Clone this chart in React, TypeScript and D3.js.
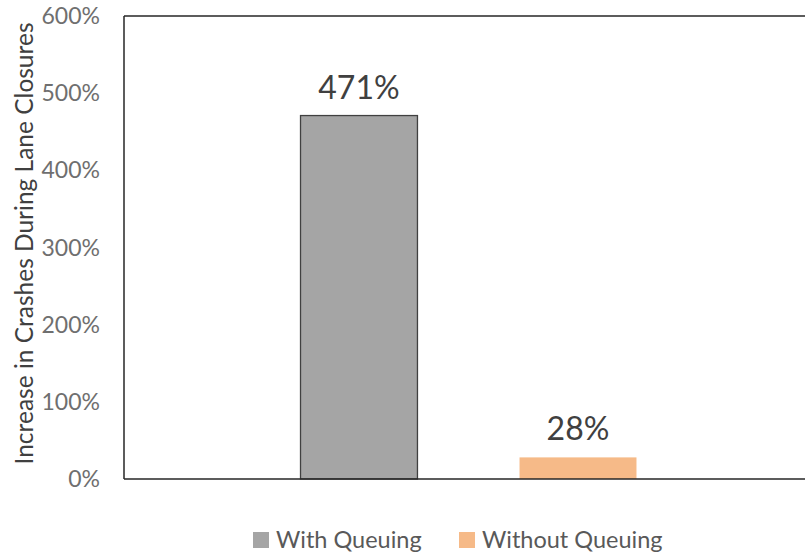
import React from "react";
import * as d3 from "d3";

const series = ["With Queuing", "Without Queuing"];
const values = [4.71, 0.28];
const dataLabels = ["471%", "28%"];
const colors = ["#A5A5A5", "#F6BA88"];
const strokes = ["#404040", "none"];
const yTicks = [0, 1, 2, 3, 4, 5, 6];
const yTitle = "Increase in Crashes During Lane Closures";

const W = 805;
const H = 554;
const left = 124;
const top = 16;
const bottom = 479;
const right = 813;

export default function App() {
  const y = d3.scaleLinear().domain([0, 6]).range([bottom, top]);
  const x = d3
    .scaleBand<string>()
    .domain(series)
    .range([left, right])
    .paddingInner(0.466)
    .paddingOuter(0.806);
  const fmt = (v: number) => `${Math.round(v * 100)}%`;
  const font = "Lato, 'Open Sans', sans-serif";
  const legendX = [253, 459];
  return (
    <svg
      width={W}
      height={H}
      style={{ position: "absolute", left: 0, top: 0, background: "#fff" }}
      fontFamily={font}
    >
      <rect x={0} y={0} width={W} height={H} fill="#fff" />
      {/* frame */}
      <line x1={left} y1={top} x2={W} y2={top} stroke="#262626" strokeWidth={1.5} />
      <line x1={left} y1={top} x2={left} y2={bottom} stroke="#262626" strokeWidth={1.5} />
      {/* bars */}
      {series.map((s, i) => (
        <rect
          key={s}
          x={x(s)}
          y={y(values[i])}
          width={x.bandwidth()}
          height={bottom - y(values[i])}
          fill={colors[i]}
          stroke={strokes[i]}
          strokeWidth={1.3}
        />
      ))}
      <line x1={left} y1={bottom} x2={W} y2={bottom} stroke="#262626" strokeWidth={1.5} />
      {/* data labels */}
      {series.map((s, i) => (
        <text
          key={s + "l"}
          x={(x(s) as number) + x.bandwidth() / 2}
          y={y(values[i]) - 17}
          textAnchor="middle"
          fontSize={32}
          fill="#404040"
        >
          {dataLabels[i]}
        </text>
      ))}
      {/* y ticks */}
      {yTicks.map((t) => (
        <text
          key={t}
          x={100}
          y={y(t)}
          dy="0.35em"
          textAnchor="end"
          fontSize={23}
          fill="#6f6f6f"
        >
          {fmt(t)}
        </text>
      ))}
      <text
        transform={`translate(24,${(22 + 465) / 2}) rotate(-90)`}
        textAnchor="middle"
        dy="0.35em"
        fontSize={24.5}
        fill="#404040"
      >
        {yTitle}
      </text>
      {/* legend */}
      {series.map((s, i) => (
        <g key={s + "g"} transform={`translate(${legendX[i]},540)`}>
          <rect x={0} y={-8} width={16} height={16} fill={colors[i]} />
          <text x={23} y={0} dy="0.35em" fontSize={23.5} fill="#595959">
            {s}
          </text>
        </g>
      ))}
    </svg>
  );
}
